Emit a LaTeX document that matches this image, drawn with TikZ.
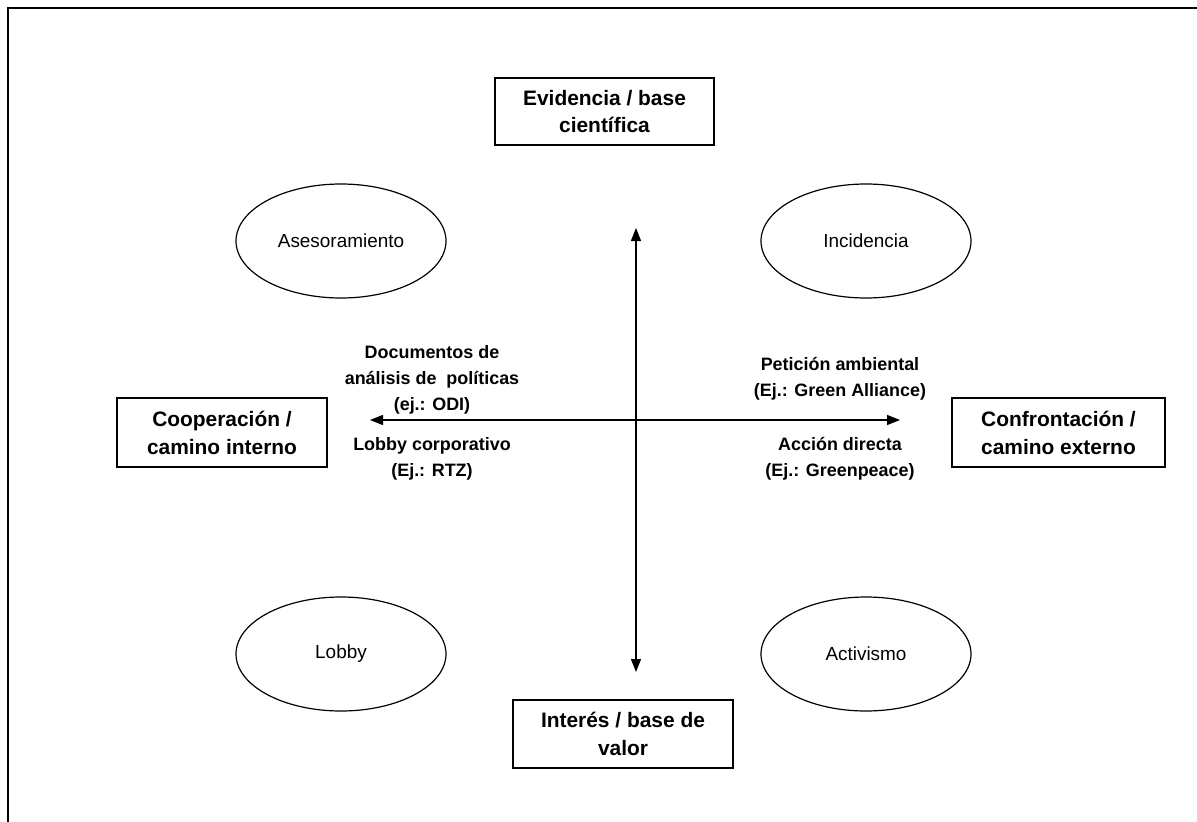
\documentclass[tikz,border=0pt]{standalone}
\usepackage{fontspec}
\setmainfont{Liberation Sans}
\usetikzlibrary{shapes.geometric,arrows.meta}
\begin{document}
\begin{tikzpicture}[x=1bp,y=-1bp,
  pole/.style={draw,line width=1.3bp,minimum width=215bp,minimum height=68bp,align=center,font=\fontsize{21}{28}\selectfont\bfseries,inner sep=2bp},
  oval/.style={draw,line width=1.2bp,ellipse,minimum width=210bp,minimum height=114bp,font=\fontsize{19}{22}\selectfont,inner sep=0bp},
  lbl/.style={align=center,font=\fontsize{18}{26}\selectfont\bfseries},
  axis/.style={line width=1.3bp,{Triangle[length=13bp,width=10bp]}-{Triangle[length=13bp,width=10bp]}}]
\useasboundingbox (0,0) rectangle (1197,822);
\draw[line width=1.8bp] (8,822) -- (8,8) -- (1197,8);
\node[pole,minimum width=219bp,minimum height=67bp] (top) at (604.5,111.5) {Evidencia / base\\científica};
\node[pole,minimum width=220bp] (bot) at (623,734) {Interés / base de\\valor};
\node[pole,minimum width=210bp,minimum height=69bp] (lft) at (222,432.5) {Cooperación /\\camino interno};
\node[pole,minimum width=213bp,minimum height=69bp] (rgt) at (1058.5,432.5) {Confrontación /\\camino externo};
\node[oval] (ase) at (341,241) {Asesoramiento};
\node[oval] (inc) at (866,241) {Incidencia};
\node[oval] (lob) at (341,654) {Lobby};
\node[oval] (act) at (866,654) {Activismo};
\coordinate (vt) at (636,228);
\coordinate (vb) at (636,672);
\coordinate (hl) at (370,420);
\coordinate (hr) at (900,420);
\draw[axis] (vt) -- (vb);
\draw[axis] (hl) -- (hr);
\node[lbl] (doc) at (432,380) {Documentos de\\análisis de~ políticas\\(ej.: ODI)};
\node[lbl] (pet) at (840,379) {Petición ambiental\\(Ej.: Green Alliance)};
\node[lbl] (lobc) at (432,459) {Lobby corporativo\\(Ej.: RTZ)};
\node[lbl] (acc) at (840,459) {Acción directa\\(Ej.: Greenpeace)};
\end{tikzpicture}
\end{document}
